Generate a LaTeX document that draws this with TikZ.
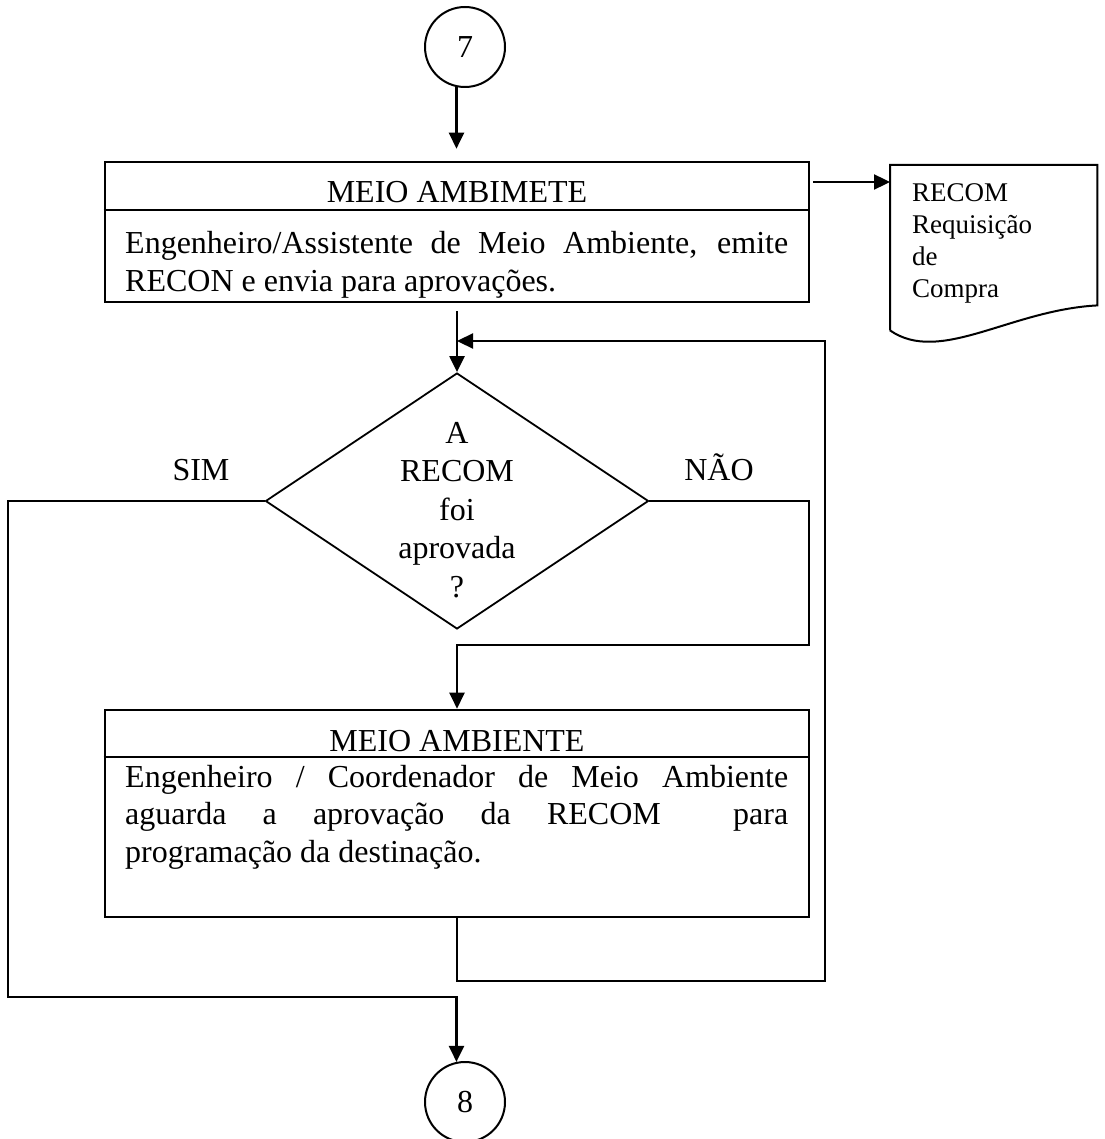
\documentclass[tikz,border=0pt]{standalone}
\usepackage{fontspec}
\setmainfont{Liberation Serif}
\usetikzlibrary{positioning, shapes.geometric, arrows.meta, calc}

\tikzset{
    framebox/.style={draw, rectangle, line width=2.6pt, inner sep=0pt},
    titletext/.style={inner sep=0pt, anchor=base, font=\fontsize{32}{37.5}\selectfont},
    bodytext/.style={inner sep=0pt, anchor=base west, text width=663pt, align=justify,
        font=\fontsize{32}{37.5}\selectfont},
    qtext/.style={inner sep=0pt, anchor=base, text width=160pt, align=center,
        font=\fontsize{32}{38.5}\selectfont},
    doctext/.style={inner sep=0pt, anchor=base west, text width=170pt, align=left,
        font=\fontsize{27}{31.7}\selectfont},
    decision/.style={draw, diamond, line width=1.8pt, inner sep=0pt,
        minimum width=383pt, minimum height=256pt},
    connector/.style={draw, circle, line width=2pt, inner sep=0pt, minimum size=80pt,
        font=\fontsize{32}{37.5}\selectfont},
    flow/.style={line width=2.3pt},
    arr/.style={flow, -{Triangle[length=16pt, width=15pt]}},
}

\begin{document}
\begin{tikzpicture}[x=1pt, y=-1pt]
\useasboundingbox (0,0) rectangle (1104,1139);

% connector 7
\node[connector] (c7) at (465,47) {7};

% first step
\node[framebox, minimum width=704pt, minimum height=140pt] (box1) at (457,232) {};
\draw[line width=2.4pt] (box1.west |- 0,210) -- (box1.east |- 0,210);
\node[titletext] (t1) at (457,203) {MEIO AMBIMETE};
\node[bodytext] (d1) at (125,254) {Engenheiro/Assistente de Meio Ambiente, emite\linebreak RECON e envia para aprova\c{c}\~oes.};

% document
\node[inner sep=0pt, minimum width=207pt, minimum height=165pt, anchor=north west] (doc) at (890,165) {};
\draw[line width=2pt] (doc.south west) -- (doc.north west) -- (doc.north east)
    -- ([yshift=25pt]doc.south east) .. controls (1010,310) and (940,365) .. (doc.south west);
\node[doctext] (doctxt) at (912,202) {RECOM\\Requisi\c{c}\~ao\\de\\Compra};

% decision
\node[decision] (dia) at (457,501) {};
\node[qtext] (qtxt) at (457,443) {A\\RECOM\\foi\\aprovada\\?};
\node[titletext] (simlbl) at (201,480) {SIM};
\node[titletext] (naolbl) at (719,480) {N\~AO};

% second step
\node[framebox, minimum width=704pt, minimum height=207pt] (box2) at (457,813.5) {};
\draw[line width=2.4pt] (box2.west |- 0,757) -- (box2.east |- 0,757);
\node[titletext] (t2) at (457,751) {MEIO AMBIENTE};
\node[bodytext] (d2) at (125,787) {Engenheiro / Coordenador de Meio Ambiente\linebreak aguarda a aprova\c{c}\~ao da RECOM\ \ para\linebreak programa\c{c}\~ao da destina\c{c}\~ao.};

% connector 8
\node[connector] (c8) at (465,1102) {8};

% bends
\coordinate (noB) at (809,645);
\coordinate (loopB) at (825,981);
\coordinate (loopT) at (825,341);
\coordinate (simB) at (8,997);

% arrows
\draw[arr, shorten >=12pt] (c7.258) -- (c7.258 |- box1.north);
\draw[arr, shorten <=3pt] (box1.east |- 0,182) -- (doc.west |- 0,182);
\draw[arr, shorten <=8pt] (box1.south) -- (dia.north);
\draw[arr] (dia.east) -| (noB) -| (box2.north);
\draw[arr] (box2.south) |- (loopB) -- (loopT) -- (loopT -| dia.north);
\draw[arr] (dia.west) -| (simB) -| (c8.102);

\end{tikzpicture}
\end{document}
